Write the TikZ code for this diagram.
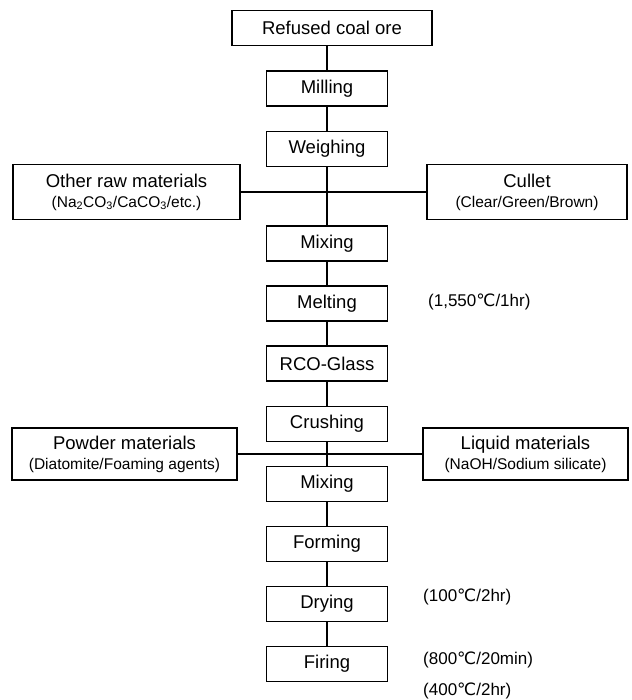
\documentclass[tikz,border=0pt]{standalone}
\usepackage{fontspec}
\setmainfont{Liberation Sans}
\newfontfamily\symfont{DejaVu Sans}
\usetikzlibrary{positioning}
\newcommand{\degc}{{\symfont ℃}}
\newcommand{\bigtxt}{\fontsize{18.5}{21}\selectfont}
\newcommand{\condtxt}{\fontsize{17}{20}\selectfont}
\newcommand{\smalltxt}{\fontsize{15.5}{18}\selectfont}

\tikzset{
    stepbox/.style={draw,line width=1.8pt,minimum width=121pt,minimum height=35pt,inner sep=2pt,font=\bigtxt},
    sidebox/.style={draw,line width=1.8pt,minimum height=55pt,inner sep=2pt,align=center,font=\bigtxt},
    link/.style={line width=1.8pt},
    cond/.style={anchor=west,inner sep=0pt,font=\condtxt}
}

\begin{document}
\begin{tikzpicture}[x=1pt,y=-1pt]
                    \useasboundingbox (0,0) rectangle (631,700);
                    \node[stepbox,minimum width=200pt] (refused) at (332,28) {Refused coal ore};
                    \node[stepbox] (milling) at (327,88.5) {Milling};
                    \node[stepbox] (weighing) at (327,149) {Weighing};
                    \node[sidebox,minimum width=227pt] (other) at (126.5,192) {Other raw materials\\[-1pt]{\smalltxt(Na\textsubscript{2}CO\textsubscript{3}/CaCO\textsubscript{3}/etc.)}};
                    \node[sidebox,minimum width=200pt] (cullet) at (527,192) {Cullet\\[-1pt]{\smalltxt(Clear/Green/Brown)}};
                    \node[stepbox] (mixa) at (327,243.5) {Mixing};
                    \node[stepbox] (melting) at (327,303.5) {Melting};
                    \node[stepbox] (glass) at (327,363.5) {RCO-Glass};
                    \node[stepbox] (crushing) at (327,424) {Crushing};
                    \node[sidebox,minimum width=225pt,minimum height=52pt] (powder) at (124.5,454) {Powder materials\\[-1pt]{\smalltxt(Diatomite/Foaming agents)}};
                    \node[sidebox,minimum width=205pt,minimum height=52pt] (liquid) at (525.5,454) {Liquid materials\\[-1pt]{\smalltxt(NaOH/Sodium silicate)}};
                    \node[stepbox] (mixb) at (327,484) {Mixing};
                    \node[stepbox] (forming) at (327,544) {Forming};
                    \node[stepbox] (drying) at (327,604) {Drying};
                    \node[stepbox] (firing) at (327,664) {Firing};
                    % conditions
                    \node[cond] (melttemp) at (428,302) {(1,550\degc/1hr)};
                    \node[cond] (drytemp) at (423,597) {(100\degc/2hr)};
                    \node[cond] (firetemp) at (423,660) {(800\degc/20min)};
                    \node[cond] (annealtemp) at (423,691) {(400\degc/2hr)};
                    % connectors
                    \draw[link] (milling.north) -- (milling.north |- refused.south);
                    \draw[link] (milling) -- (weighing);
                    \draw[link] (weighing) -- (mixa);
                    \draw[link] (other.east) -- (cullet.west);
                    \draw[link] (mixa) -- (melting);
                    \draw[link] (melting) -- (glass);
                    \draw[link] (glass) -- (crushing);
                    \draw[link] (crushing) -- (mixb);
                    \draw[link] (powder.east) -- (liquid.west);
                    \draw[link] (mixb) -- (forming);
                    \draw[link] (forming) -- (drying);
                    \draw[link] (drying) -- (firing);
                \end{tikzpicture}
\end{document}
